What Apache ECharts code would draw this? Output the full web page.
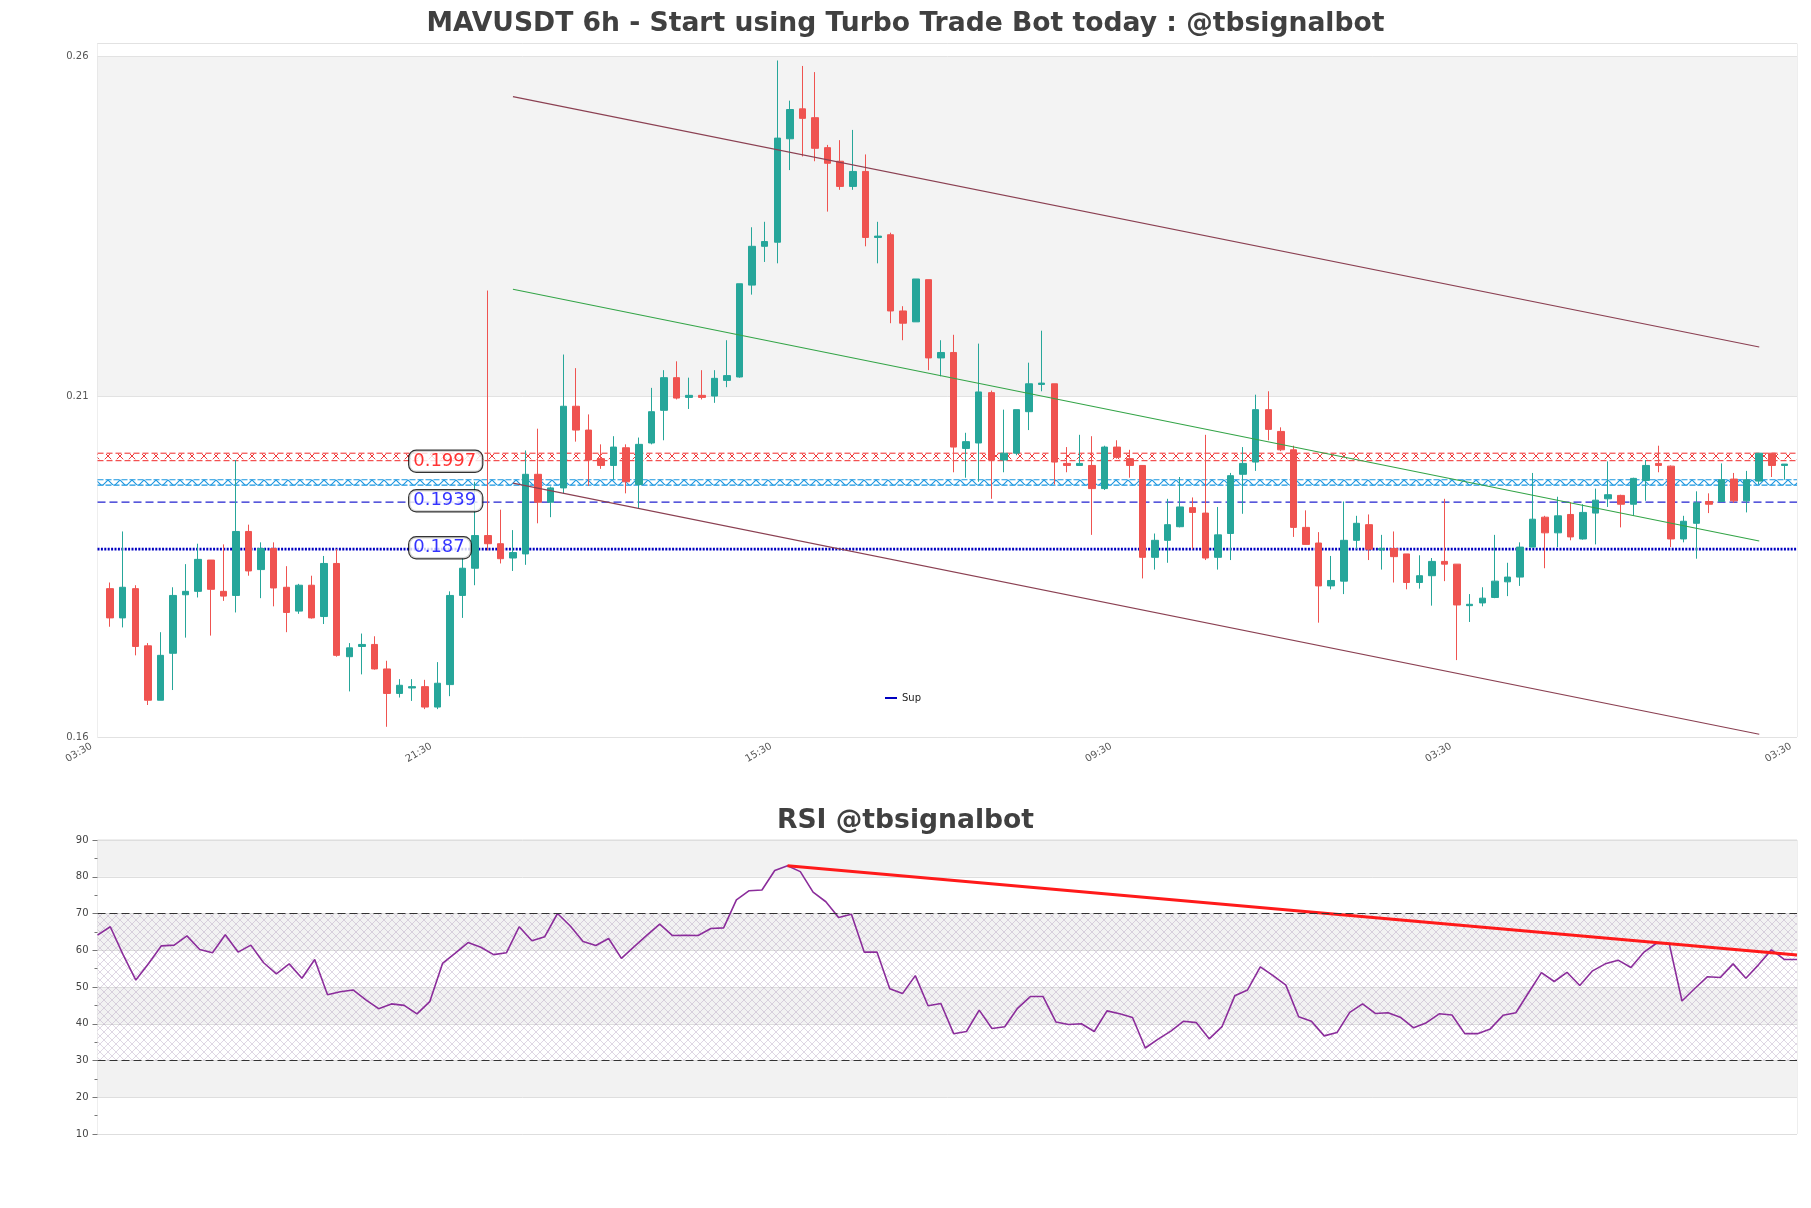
<!DOCTYPE html>
<html><head><meta charset="utf-8">
<script src="https://cdn.jsdelivr.net/npm/echarts@6/dist/echarts.min.js"></script>
<style>html,body{margin:0;padding:0;background:#fff}#c{width:1811px;height:1208px}</style>
</head><body><div id="c"></div>
<script>
// ---------- DATA ----------
const xTickIndex = [0, 27, 54, 81, 108, 135];
const xTickLabels = ['03:30', '21:30', '15:30', '09:30', '03:30', '03:30'];
const yTicks = [0.16, 0.21, 0.26];
const rsiTicks = [10, 20, 30, 40, 50, 60, 70, 80, 90];

const opens = [0.1818,0.1775,0.1818,0.1734,0.1654,0.1723,0.1809,0.1814,0.1860,0.1814,
0.1808,0.1902,0.1846,0.1877,0.1820,0.1785,0.1823,0.1777,0.1855,0.1718,
0.1733,0.1736,0.1700,0.1664,0.1672,0.1674,0.1644,0.1677,0.1808,0.1848,
0.1896,0.1884,0.1863,0.1869,0.1986,0.1945,0.1966,0.2086,0.2051,0.2009,
0.1999,0.2025,0.1971,0.2032,0.2080,0.2128,0.2099,0.2102,0.2101,0.2124,
0.2129,0.2264,0.2321,0.2327,0.2479,0.2523,0.2510,0.2466,0.2446,0.2409,
0.2431,0.2334,0.2338,0.2226,0.2210,0.2272,0.2157,0.2165,0.2024,0.2032,
0.2106,0.2007,0.2017,0.2078,0.2118,0.2119,0.2002,0.1999,0.1999,0.1965,
0.2026,0.2009,0.1999,0.1864,0.1889,0.1909,0.1937,0.1929,0.1864,0.1899,
0.1986,0.2004,0.2081,0.2049,0.2022,0.1908,0.1885,0.1822,0.1829,0.1889,
0.1912,0.1875,0.1877,0.1869,0.1827,0.1837,0.1858,0.1854,0.1793,0.1797,
0.1805,0.1828,0.1835,0.1879,0.1923,0.1900,0.1927,0.1891,0.1929,0.1950,
0.1955,0.1942,0.1977,0.2002,0.1998,0.1891,0.1914,0.1946,0.1946,0.1979,
0.1947,0.1976,0.2017,0.1999];
const closes = [0.1775,0.1820,0.1733,0.1654,0.1720,0.1808,0.1814,0.1861,0.1817,0.1807,
0.1902,0.1844,0.1877,0.1819,0.1783,0.1823,0.1775,0.1855,0.1720,0.1731,
0.1736,0.1700,0.1664,0.1676,0.1674,0.1644,0.1679,0.1808,0.1848,0.1896,
0.1884,0.1862,0.1871,0.1986,0.1945,0.1966,0.2086,0.2051,0.2007,0.1999,
0.2026,0.1975,0.2030,0.2078,0.2128,0.2098,0.2102,0.2099,0.2127,0.2131,
0.2266,0.2321,0.2328,0.2480,0.2522,0.2509,0.2465,0.2443,0.2409,0.2431,
0.2334,0.2336,0.2226,0.2208,0.2273,0.2157,0.2165,0.2026,0.2034,0.2107,
0.2007,0.2017,0.2081,0.2119,0.2120,0.2004,0.1999,0.2002,0.1965,0.2026,
0.2011,0.1999,0.1864,0.1889,0.1912,0.1938,0.1930,0.1863,0.1897,0.1984,
0.2002,0.2081,0.2052,0.2022,0.1908,0.1883,0.1822,0.1830,0.1889,0.1914,
0.1876,0.1877,0.1865,0.1827,0.1837,0.1858,0.1854,0.1794,0.1795,0.1804,
0.1829,0.1835,0.1879,0.1920,0.1900,0.1925,0.1894,0.1930,0.1948,0.1956,
0.1942,0.1980,0.1999,0.1999,0.1891,0.1917,0.1944,0.1942,0.1978,0.1947,
0.1978,0.2017,0.1999,0.2001];
const lows = [0.1762,0.1761,0.1720,0.1647,0.1654,0.1669,0.1746,0.1805,0.1749,0.1800,
0.1783,0.1837,0.1804,0.1792,0.1754,0.1781,0.1774,0.1766,0.1718,0.1667,
0.1692,0.1699,0.1615,0.1658,0.1653,0.1641,0.1641,0.1660,0.1775,0.1823,
0.1874,0.1855,0.1844,0.1853,0.1914,0.1923,0.1958,0.2034,0.1969,0.1994,
0.1978,0.1958,0.1936,0.2030,0.2036,0.2096,0.2082,0.2096,0.2091,0.2114,
0.2128,0.2250,0.2298,0.2296,0.2433,0.2453,0.2446,0.2372,0.2404,0.2404,
0.2321,0.2296,0.2208,0.2183,0.2210,0.2139,0.2130,0.1989,0.1981,0.1975,
0.1950,0.1989,0.2014,0.2051,0.2108,0.1971,0.1989,0.1999,0.1897,0.1963,
0.2009,0.1981,0.1833,0.1846,0.1856,0.1908,0.1876,0.1860,0.1846,0.1860,
0.1928,0.1991,0.2036,0.2020,0.1894,0.1883,0.1768,0.1817,0.1810,0.1876,
0.1860,0.1846,0.1827,0.1817,0.1818,0.1793,0.1829,0.1713,0.1769,0.1792,
0.1804,0.1807,0.1822,0.1879,0.1848,0.1879,0.1889,0.1890,0.1883,0.1938,
0.1908,0.1925,0.1947,0.1989,0.1879,0.1886,0.1862,0.1929,0.1945,0.1944,
0.1930,0.1971,0.1982,0.1978];
const highs = [0.1827,0.1902,0.1823,0.1738,0.1754,0.1820,0.1854,0.1884,0.1860,0.1883,
0.2007,0.1912,0.1886,0.1886,0.1851,0.1825,0.1837,0.1866,0.1876,0.1738,
0.1752,0.1748,0.1712,0.1685,0.1685,0.1684,0.1710,0.1814,0.1863,0.1975,
0.2256,0.1934,0.1904,0.2021,0.2053,0.1968,0.2162,0.2142,0.2074,0.2030,
0.2042,0.2030,0.2040,0.2113,0.2139,0.2152,0.2128,0.2139,0.2139,0.2183,
0.2266,0.2349,0.2357,0.2594,0.2535,0.2586,0.2577,0.2470,0.2477,0.2492,
0.2456,0.2357,0.2341,0.2233,0.2273,0.2272,0.2183,0.2191,0.2047,0.2178,
0.2109,0.2081,0.2081,0.2150,0.2197,0.2119,0.2026,0.2044,0.2042,0.2028,
0.2036,0.2022,0.1999,0.1899,0.1950,0.1982,0.1952,0.2044,0.1938,0.1988,
0.2026,0.2103,0.2108,0.2055,0.2028,0.1933,0.1901,0.1866,0.1946,0.1925,
0.1927,0.1897,0.1902,0.1869,0.1867,0.1863,0.1950,0.1854,0.1810,0.1820,
0.1897,0.1856,0.1886,0.1988,0.1925,0.1953,0.1945,0.1942,0.1965,0.2005,
0.1956,0.1981,0.2007,0.2028,0.1999,0.1925,0.1961,0.1958,0.2002,0.1988,
0.1991,0.2017,0.2017,0.2001];

const rsiValues = [64.1,66.4,58.8,51.9,56.4,61.2,61.4,63.9,60.2,59.3,
64.2,59.5,61.4,56.6,53.6,56.3,52.4,57.5,47.9,48.7,
49.2,46.5,44.1,45.4,45.0,42.7,46.0,56.4,59.2,62.1,
60.8,58.8,59.3,66.4,62.6,63.7,70.0,66.6,62.4,61.3,
63.2,57.8,61.0,64.1,67.1,64.0,64.1,64.0,65.9,66.1,
73.7,76.2,76.4,81.7,83.0,81.4,75.8,73.2,68.9,69.8,
59.5,59.5,49.5,48.2,53.1,44.9,45.5,37.3,37.9,43.7,
38.7,39.2,44.2,47.4,47.4,40.5,39.8,40.0,37.9,43.5,
42.7,41.7,33.4,35.8,38.0,40.7,40.3,35.9,39.2,47.6,
49.2,55.5,53.1,50.5,41.9,40.7,36.7,37.6,43.1,45.4,
42.8,43.0,41.7,38.9,40.3,42.7,42.4,37.3,37.3,38.6,
42.3,43.0,48.5,53.9,51.5,54.0,50.4,54.4,56.3,57.3,
55.3,59.4,61.9,61.8,46.2,49.6,52.8,52.6,56.3,52.4,
56.1,60.1,57.5,57.5];

// horizontal levels
const supLevel = 0.1876;
const dashLevel = 0.1945;
const redLines = [0.2017, 0.2006];
const redBand = [0.2008, 0.2016];
const blueLines = [0.1978, 0.1970];
const blueBand = [0.1970, 0.1978];
const priceLabelValues = [0.1997, 0.1939, 0.187];
const priceLabelText = ['0.1997', '0.1939', '0.187'];
const priceLabelColors = ['#ff0000', '#0000ff', '#0000ff'];
const priceLabelX = 25;

// channel lines (x index, price)
const channelX = [33, 132];
const upperLine = [0.2541, 0.2173];
const midLine = [0.2258, 0.1888];
const lowerLine = [0.1973, 0.1604];
// RSI trend
const rsiTrendX = [54, 133];
const rsiTrendY = [83.0, 58.7];

// ---------- BUILD ----------
const FONT = 'DejaVu Sans';
const NCAT = 136;
const cats = Array.from({length: NCAT}, (_, i) => String(i));
const rsiCats = rsiValues.map((_, i) => String(i));
const candleData = cats.map((_, i) => (i >= 1 && i <= opens.length)
  ? [opens[i - 1], closes[i - 1], lows[i - 1], highs[i - 1]]
  : ['-', '-', '-', '-']);

function hatch(color, size, lw) {
  const c = document.createElement('canvas');
  c.width = size; c.height = size;
  const g = c.getContext('2d');
  g.strokeStyle = color; g.lineWidth = lw;
  g.beginPath();
  g.moveTo(-1, -1); g.lineTo(size + 1, size + 1);
  g.moveTo(size + 1, -1); g.lineTo(-1, size + 1);
  g.stroke();
  return {image: c, repeat: 'repeat'};
}

function hline(v, color, type, width, name) {
  return {
    type: 'line', name: name || undefined, xAxisIndex: 0, yAxisIndex: 0,
    data: [[0, v], [NCAT - 1, v]], showSymbol: false, silent: true, z: 1,
    lineStyle: {color: color, type: type, width: width}, itemStyle: {color: color}
  };
}
function seg(xs, ys, color, width, xi, yi, z) {
  return {
    type: 'line', xAxisIndex: xi, yAxisIndex: yi, data: [[xs[0], ys[0]], [xs[1], ys[1]]],
    showSymbol: false, silent: true, z: z, lineStyle: {color: color, width: width}
  };
}

const chart = echarts.init(document.getElementById('c'), null, {renderer: 'canvas'});
const option = {
  animation: false,
  backgroundColor: '#ffffff',
  textStyle: {fontFamily: FONT},
  title: [
    {text: 'MAVUSDT 6h - Start using Turbo Trade Bot today : @tbsignalbot', left: 'center', top: 6,
     textStyle: {fontFamily: FONT, fontSize: 26.6, fontWeight: 'bold', color: '#404040'}},
    {text: 'RSI @tbsignalbot', left: 'center', top: 803,
     textStyle: {fontFamily: FONT, fontSize: 26.6, fontWeight: 'bold', color: '#404040'}}
  ],
  legend: {
    data: [{name: 'Sup', icon: 'rect'}], left: 880, top: 688, itemWidth: 12, itemHeight: 2,
    itemGap: 5, selectedMode: false, textStyle: {fontFamily: FONT, fontSize: 10, color: '#222'}
  },
  grid: [
    {left: 97.5, right: 14, top: 43.5, height: 693.5, show: true, borderColor: '#dddddd', borderWidth: 1, outerBoundsMode: 'none'},
    {left: 97.5, right: 14, top: 840, height: 294, show: true, borderColor: '#dddddd', borderWidth: 1, outerBoundsMode: 'none'}
  ],
  xAxis: [
    {type: 'category', gridIndex: 0, data: cats, boundaryGap: false,
     axisLine: {show: false}, axisTick: {show: false}, splitLine: {show: false},
     axisLabel: {
       interval: (i) => xTickIndex.indexOf(i) >= 0, rotate: 30, fontFamily: FONT, fontSize: 10,
       color: '#555', margin: 5, showMaxLabel: true, showMinLabel: true, padding: [0, 7, 0, 0],
       formatter: (v, i) => { const k = xTickIndex.indexOf(Number(v)); return k >= 0 ? xTickLabels[k] : ''; }
     }},
    {type: 'category', gridIndex: 1, data: rsiCats, boundaryGap: false,
     axisLine: {show: false}, axisTick: {show: false}, axisLabel: {show: false}, splitLine: {show: false}}
  ],
  yAxis: [
    {type: 'value', gridIndex: 0, min: 0.16, max: 0.2619, interval: 0.05,
     axisLine: {show: false}, axisTick: {show: false},
     axisLabel: {fontFamily: FONT, fontSize: 10, color: '#555', margin: 9,
       formatter: (v) => { const m = yTicks.find(t => Math.abs(t - v) < 1e-6); return m !== undefined ? m.toFixed(2) : ''; }},
     splitLine: {show: true, lineStyle: {color: '#e2e2e2', width: 1}},
     splitArea: {show: true, areaStyle: {color: ['#ffffff', '#f3f3f3']}}},
    {type: 'value', gridIndex: 1, min: 10, max: 90, interval: 10,
     axisLine: {show: false},
     axisTick: {show: true, length: 5, lineStyle: {color: '#777'}},
     minorTick: {show: true, splitNumber: 2, length: 3, lineStyle: {color: '#777'}},
     axisLabel: {fontFamily: FONT, fontSize: 10, color: '#444', margin: 9,
       formatter: (v) => rsiTicks.indexOf(Math.round(v)) >= 0 ? String(Math.round(v)) : ''},
     splitLine: {show: true, lineStyle: {color: '#dedede', width: 1}},
     splitArea: {show: true, areaStyle: {color: ['#ffffff', '#f2f2f2']}}}
  ],
  series: [
    Object.assign(hline(redLines[0], '#f02828', [6, 3], 1), {
      markArea: {silent: true, itemStyle: {color: hatch('#f03a3a', 12, 1)},
        data: [[{yAxis: redBand[0]}, {yAxis: redBand[1]}]]}
    }),
    hline(redLines[1], '#f02828', [6, 3], 1),
    Object.assign(hline(blueLines[0], '#1a96e0', [6, 2], 1.2), {
      markArea: {silent: true, itemStyle: {color: hatch('#1a96e0', 12, 1.1)},
        data: [[{yAxis: blueBand[0]}, {yAxis: blueBand[1]}]]}
    }),
    hline(blueLines[1], '#1a96e0', [6, 2], 1.2),
    hline(dashLevel, '#2222d0', [8, 4], 1.2),
    hline(supLevel, '#0000c0', [2, 1.4], 2.6, 'Sup'),
    {
      type: 'candlestick', name: 'price', xAxisIndex: 0, yAxisIndex: 0, data: candleData, z: 3,
      barWidth: 7, silent: true,
      itemStyle: {color: '#26a69a', color0: '#ef5350', borderColor: '#26a69a', borderColor0: '#ef5350', borderWidth: 1}
    },
    seg(channelX, upperLine, '#8b4052', 1.2, 0, 0, 4),
    seg(channelX, midLine, '#33a447', 1.1, 0, 0, 4),
    seg(channelX, lowerLine, '#8b4052', 1.2, 0, 0, 4),
    {
      type: 'scatter', xAxisIndex: 0, yAxisIndex: 0, z: 6, symbolSize: 0, silent: true,
      data: priceLabelValues.map((v, i) => ({
        value: [priceLabelX, v],
        label: {show: true, position: 'right', distance: 0, offset: [-3, -5.5],
          formatter: priceLabelText[i], color: priceLabelColors[i], fontFamily: FONT, fontSize: 18,
          lineHeight: 19, backgroundColor: '#ffffff', borderColor: '#000000', borderWidth: 1.2,
          borderRadius: 7, padding: [1, 6, 1, 4]}
      }))
    },
    {
      type: 'line', name: 'rsi', xAxisIndex: 1, yAxisIndex: 1, data: rsiValues, showSymbol: false, silent: true, z: 3,
      lineStyle: {color: '#8b2d9b', width: 1.6}, itemStyle: {color: '#8b2d9b'},
      markArea: {silent: true, itemStyle: {color: hatch('rgba(170,150,185,0.55)', 8, 0.7)},
        data: [[{yAxis: 30}, {yAxis: 70}]]},
      markLine: {silent: true, symbol: ['none', 'none'], label: {show: false},
        lineStyle: {color: '#333', type: [8, 4], width: 1.2},
        data: [{yAxis: 70}, {yAxis: 30}]}
    },
    seg(rsiTrendX, rsiTrendY, '#ff1a1a', 3.2, 1, 1, 4)
  ]
};
chart.setOption(option);
</script>
</body></html>
